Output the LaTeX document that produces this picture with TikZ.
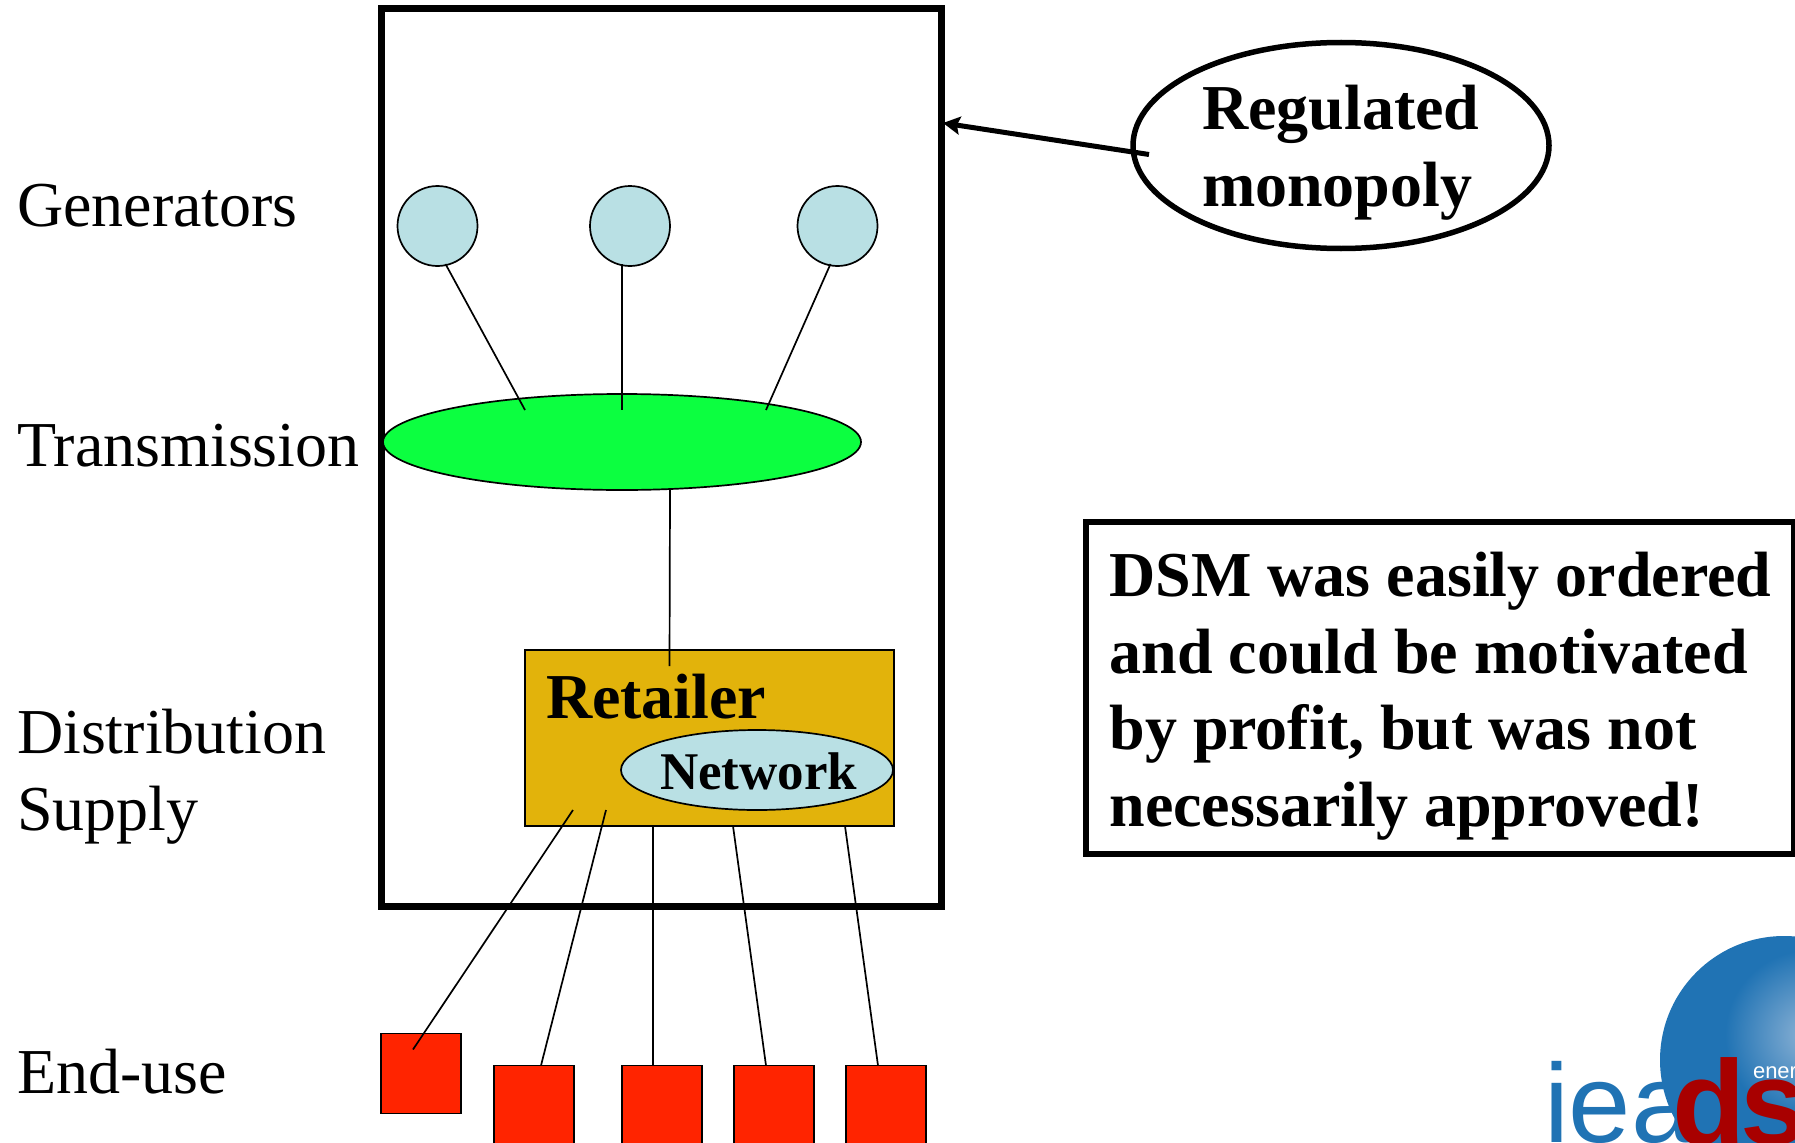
\documentclass[tikz,border=0pt]{standalone}
\usepackage{fontspec}
\setmainfont{Liberation Serif}
\newfontfamily\logofont{Liberation Sans}
\usetikzlibrary{shapes.geometric,arrows.meta}
\definecolor{paleblue}{HTML}{B9E0E4}
\definecolor{busgreen}{HTML}{0CFF40}
\definecolor{retailgold}{HTML}{E2B30B}
\definecolor{loadred}{HTML}{FF2400}
\definecolor{logoblue}{HTML}{2073B4}
\definecolor{logohi}{HTML}{8FB4D6}
\definecolor{logored}{HTML}{A80000}
\tikzset{
  x=1pt,y=-1pt,
  every node/.style={inner sep=0pt,outer sep=0pt},
  thin line/.style={line width=1.7pt,draw=black},
  gen/.style={circle,thin line,fill=paleblue,minimum size=80pt},
  load/.style={rectangle,thin line,fill=loadred,minimum width=80pt,minimum height=80pt},
  link/.style={line width=1.7pt},
  lab/.style={anchor=base west,font=\fontsize{64}{77}\selectfont},
  boldlab/.style={anchor=base west,font=\fontsize{64}{77}\selectfont\bfseries},
}
\begin{document}
\begin{tikzpicture}
% frame and callouts
\node[rectangle,draw=black,line width=7pt,minimum width=560pt,minimum height=897pt] (frame) at (661,457.5) {};
\node[ellipse,draw=black,line width=5.5pt,minimum width=416pt,minimum height=206pt] (reg) at (1341,145.5) {};
\node[boldlab] (regt1) at (1202,129.5) {Regulated};
\node[boldlab] (regt2) at (1202,206) {monopoly};
\node[rectangle,draw=black,line width=6pt,minimum width=708pt,minimum height=332pt] (dsm) at (1439.5,688) {};
\node[boldlab] (d1) at (1109.5,596) {DSM was easily ordered};
\node[boldlab] (d2) at (1109.5,673) {and could be motivated};
\node[boldlab] (d3) at (1109.5,749.5) {by profit, but was not};
\node[boldlab] (d4) at (1109.5,826) {necessarily approved!};
\draw[line width=5pt,-{Stealth[length=17pt,width=18pt,inset=3pt]}] ([shift={(-192,9)}]reg.center) -- ([shift={(282,-334.5)}]frame.center);
% left labels
\node[lab] (l1) at (17,226) {Generators};
\node[lab] (l2) at (17,466) {Transmission};
\node[lab] (l3) at (17,753) {Distribution};
\node[lab] (l4) at (17,830) {Supply};
\node[lab] (l5) at (17,1093) {End-use};
% network
\node[gen] (g1) at (437.5,226) {};
\node[gen] (g2) at (630,226) {};
\node[gen] (g3) at (837.5,226) {};
\node[ellipse,thin line,fill=busgreen,minimum width=478pt,minimum height=96pt] (bus) at (622,442) {};
\draw[link] ([shift={(8,38)}]g1.center) -- ([shift={(-97,-32)}]bus.center);
\draw[link] ([shift={(-8,38)}]g2.center) -- ([shift={(0,-32)}]bus.center);
\draw[link] ([shift={(-7,38)}]g3.center) -- ([shift={(144,-32)}]bus.center);
\node[rectangle,thin line,fill=retailgold,minimum width=369pt,minimum height=176pt] (ret) at (709.5,738) {};
\draw[link] ([shift={(48,48)}]bus.center) -- ([shift={(-40,-72)}]ret.center);
\node[boldlab] (rett) at (546,718) {Retailer};
\node[ellipse,thin line,fill=paleblue,minimum width=272pt,minimum height=80pt] (net) at (757,770) {};
\node[anchor=base west,font=\fontsize{53}{60}\selectfont\bfseries] (nett) at (660,789) {Network};
% loads
\node[load] (e1) at (421,1073.5) {};
\node[load] (e2) at (534,1105.5) {};
\node[load] (e3) at (662,1105.5) {};
\node[load] (e4) at (774,1105.5) {};
\node[load] (e5) at (886,1105.5) {};
\draw[link] ([shift={(-136.5,72)}]ret.center) -- ([shift={(-8,-24)}]e1.center);
\draw[link] ([shift={(-103.5,72)}]ret.center) -- ([shift={(7,-40)}]e2.center);
\draw[link] ([shift={(-56.5,88)}]ret.center) -- ([shift={(-9,-40)}]e3.center);
\draw[link] ([shift={(23.5,88)}]ret.center) -- ([shift={(-8,-40)}]e4.center);
\draw[link] ([shift={(135.5,88)}]ret.center) -- ([shift={(-8,-40)}]e5.center);
% logo
\begin{scope}
\clip (1500,900) rectangle (1795,1144);
\begin{scope}
\clip (1784,1060) circle[radius=124];
\fill[logoblue] (1784,1060) circle[radius=124];
\shade[inner color=logohi,outer color=logoblue] (1810,1035) circle[radius=85];
\end{scope}
\node[anchor=base west,font=\fontsize{112}{112}\selectfont\logofont,text=logoblue] (iea) at (1544,1142) {iea};
\node[anchor=base west,font=\fontsize{22}{22}\selectfont\logofont,text=white] (en) at (1753,1078) {ener};
\node[anchor=base west,font=\fontsize{120}{120}\selectfont\logofont\bfseries,text=logored] (ds) at (1672,1144) {d\kern-5pt s\kern-5pt m};
\end{scope}
\pgfresetboundingbox
\useasboundingbox (0,0) rectangle (1795,1142.5);
\end{tikzpicture}
\end{document}
